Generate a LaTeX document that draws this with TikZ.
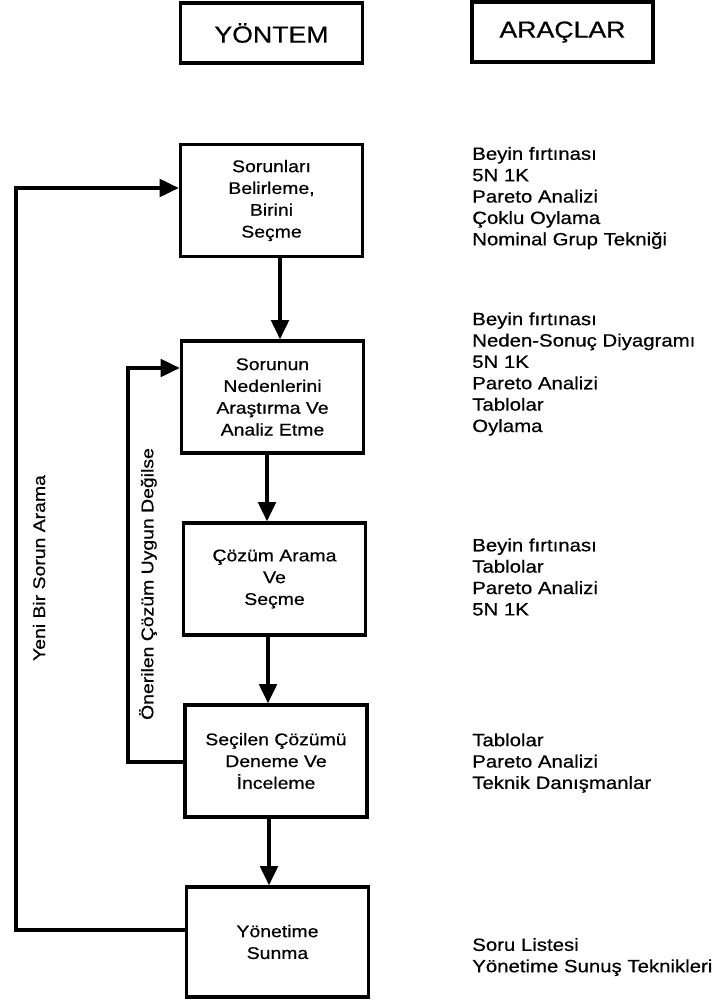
\documentclass[tikz,border=0pt]{standalone}
\usepackage{fontspec}
\setmainfont[FakeStretch=1.15,FakeBold=0.6]{Liberation Sans}
\usetikzlibrary{arrows.meta,calc}

\tikzset{
  stepbox/.style={draw,line width=2.4pt,minimum width=4.55cm,minimum height=2.8cm,
    inner sep=0pt,align=center,font=\fontsize{12}{15.5}\selectfont},
  headbox/.style={draw,line width=2.4pt,minimum width=4.55cm,minimum height=1.5cm,
    inner sep=0pt,font=\fontsize{16.5}{20}\selectfont},
  toollist/.style={anchor=west,inner sep=0pt,align=left,font=\fontsize{12.6}{15.2}\selectfont},
  looplabel/.style={rotate=90,inner sep=0pt,font=\fontsize{12}{15}\selectfont},
  flow/.style={line width=2.4pt,-{Triangle[length=0.48cm,width=0.44cm]}}
}

\begin{document}
\begin{tikzpicture}[x=0.025cm,y=-0.025cm]
\useasboundingbox (0,0) rectangle (712,1004);

% basliklar
\node[headbox] (yontem) at (271.5,33) {YÖNTEM};
\node[headbox,minimum width=4.525cm] (araclar) at (562.5,32) {ARAÇLAR};

% adimlar
\node[stepbox] (b1) at (271.5,200.5) {Sorunları\\Belirleme,\\Birini\\Seçme};
\node[stepbox] (b2) at (272.5,397) {Sorunun\\Nedenlerini\\Araştırma Ve\\Analiz Etme};
\node[stepbox] (b3) at (274.5,579) {Çözüm Arama\\Ve\\Seçme};
\node[stepbox] (b4) at (276,761) {Seçilen Çözümü\\Deneme Ve\\İnceleme};
\node[stepbox,minimum height=2.75cm] (b5) at (277.5,942) {Yönetime\\Sunma};

% araclar
\node[toollist] (t1) at (472,198) {Beyin fırtınası\\5N 1K\\Pareto Analizi\\Çoklu Oylama\\Nominal Grup Tekniği};
\node[toollist] (t2) at (472,374) {Beyin fırtınası\\Neden-Sonuç Diyagramı\\5N 1K\\Pareto Analizi\\Tablolar\\Oylama};
\node[toollist] (t3) at (472,577) {Beyin fırtınası\\Tablolar\\Pareto Analizi\\5N 1K};
\node[toollist] (t4) at (472,763) {Tablolar\\Pareto Analizi\\Teknik Danışmanlar};
\node[toollist] (t5) at (472,957) {Soru Listesi\\Yönetime Sunuş Teknikleri};

% akis oklari
\foreach \a/\b/\dx in {b1/b2/8.5,b2/b3/-5.5,b3/b4/-6.5,b4/b5/-7}
  \draw[flow] ($(\a.south)+(\dx,0)$) -- ($(\a.south |- \b.north)+(\dx,0)$);

% geri donusler
\coordinate (outer) at (16,0);
\coordinate (inner) at (128,0);
\coordinate (b5out) at ($(b5.west)+(0,-12)$);
\coordinate (b1in) at ($(b1.west)+(0,-12.5)$);
\coordinate (b4out) at ($(b4.west)+(0,1)$);
\coordinate (b2in) at ($(b2.west)+(0,-29)$);
\draw[flow] (b5out) -- (b5out -| outer) -- (b1in -| outer) -- (b1in);
\draw[flow] (b4out) -- (b4out -| inner) -- (b2in -| inner) -- (b2in);

\node[looplabel] (newprob) at (39,568) {Yeni Bir Sorun Arama};
\node[looplabel] (notfit) at (148,584) {Önerilen Çözüm Uygun Değilse};

\end{tikzpicture}
\end{document}
